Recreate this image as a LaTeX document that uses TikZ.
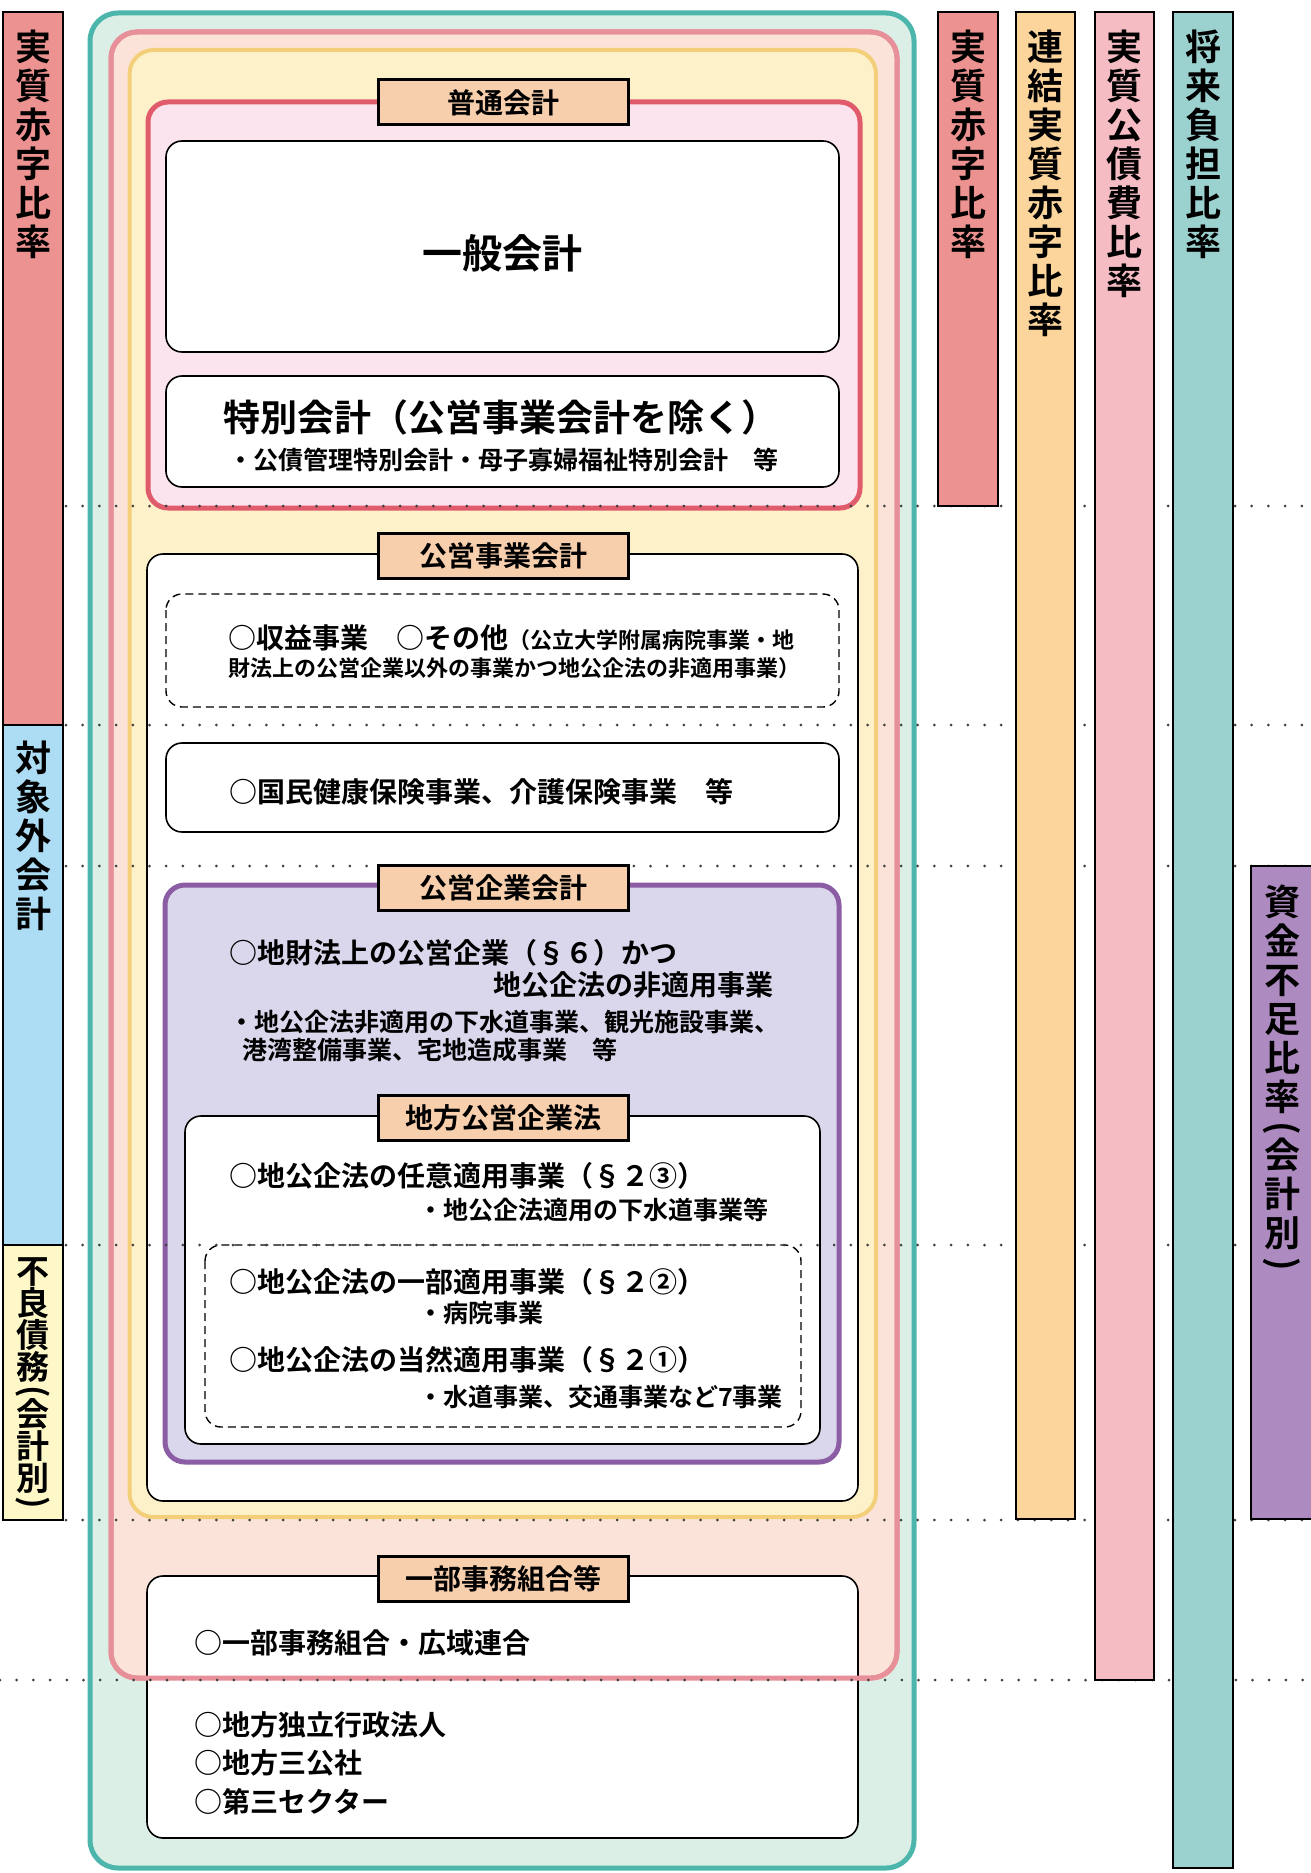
\documentclass[tikz,border=0pt]{standalone}
\usepackage{fontspec}
\usepackage{graphicx}
\setmainfont{Noto Sans CJK JP}[BoldFont={Noto Sans CJK JP Bold}]
\newcommand\jfs[1]{\fontsize{#1}{#1}\selectfont}
\newcommand\vpo{\rotatebox[origin=c]{-90}{(}}
\newcommand\vpc{\rotatebox[origin=c]{-90}{)}}

\definecolor{tealline}{HTML}{4DB6AC}
\definecolor{tealfill}{HTML}{DCEFE6}
\definecolor{salmline}{HTML}{E8909A}
\definecolor{salmfill}{HTML}{FCE3D9}
\definecolor{yellline}{HTML}{F3CF7A}
\definecolor{yellfill}{HTML}{FDF1C9}
\definecolor{redline}{HTML}{E05C6C}
\definecolor{redfill}{HTML}{FCE4EE}
\definecolor{purpline}{HTML}{8B5DA5}
\definecolor{purpfill}{HTML}{DAD6EC}
\definecolor{tagpeach}{HTML}{F7CFAD}
\definecolor{barsalm}{HTML}{EC9290}
\definecolor{barblue}{HTML}{ADDDF4}
\definecolor{baryell}{HTML}{FEF8C9}
\definecolor{barorng}{HTML}{FCD59D}
\definecolor{barpink}{HTML}{F6BCC4}
\definecolor{barteal}{HTML}{9BD2D0}
\definecolor{barpurp}{HTML}{AD8ABF}

\tikzset{
  zone/.style={line width=5pt, rounded corners=26pt},
  wbox/.style={draw=black, line width=1.6pt, fill=white, rounded corners=16pt},
  dbox/.style={draw=black, line width=1.4pt, dash pattern=on 8pt off 5pt, rounded corners=16pt},
  tag/.style={draw=black, line width=3pt, fill=tagpeach, minimum width=250pt, minimum height=45pt, inner sep=0pt, font=\bfseries\jfs{28}},
  txt/.style={anchor=west, inner sep=0pt, font=\bfseries\jfs{28}},
  sml/.style={anchor=west, inner sep=0pt, font=\bfseries\jfs{25}},
  ratiobar/.style={draw=black, line width=2pt},
  vtxt/.style={anchor=north, inner sep=0pt, align=center, font=\bfseries\fontsize{36}{39}\selectfont},
  dotline/.style={line width=3pt, line cap=round, dash pattern=on 0pt off 16.7pt, black!75}
}

\begin{document}
\begin{tikzpicture}[x=1pt,y=-1pt]
    \useasboundingbox (0,0) rectangle (1310,1873);

%   nested frames
    \draw[zone, draw=tealline, fill=tealfill, rounded corners=28pt] (90,13) rectangle (914,1868);
    \draw[zone, draw=salmline, fill=salmfill] (111,32) rectangle (897,1678);
    \draw[zone, draw=yellline, fill=yellfill, line width=4pt, rounded corners=24pt] (129.5,50) rectangle (876,1517);
    \draw[zone, draw=redline, fill=redfill, rounded corners=20pt] (148,102) rectangle (860,508);

    \draw[wbox] (166,141) rectangle (839,352);
    \draw[wbox] (166,376) rectangle (839,487);
    \draw[wbox] (147,554) rectangle (858,1501);
    \draw[dbox] (166,594) rectangle (839,707);
    \draw[wbox] (166,743) rectangle (839,832);
    \draw[zone, draw=purpline, fill=purpfill, rounded corners=20pt] (165,885) rectangle (839,1462);
    \draw[wbox] (185,1116) rectangle (820,1444);
    \draw[dbox] (205,1245) rectangle (801,1427);
    \draw[wbox] (147,1576) rectangle (858,1838);
    \draw[zone, draw=salmline] (111,32) rectangle (897,1678);

%   dotted separators
    \foreach \yy in {506,725,866,1245,1520} \draw[dotline] (66,\yy) -- (1310,\yy);
    \draw[dotline] (0,1680) -- (1310,1680);

%   titles
    \node[tag] (futsu) at (503,102.5) {普通会計};
    \node[tag] (koei) at (503,555.5) {公営事業会計};
    \node[tag] (kigyo) at (503,888) {公営企業会計};
    \node[tag] (chiho) at (503,1117.5) {地方公営企業法};
    \node[tag] (kumiaitag) at (503,1579) {一部事務組合等};

    \node[inner sep=0pt, font=\bfseries\jfs{40}] (ippan) at (502,253) {一般会計};
    \node[inner sep=0pt, font=\bfseries\jfs{37}] (tokubetsu) at (501,417) {特別会計（公営事業会計を除く）};
    \node[inner sep=0pt, font=\bfseries\jfs{25}] (tokurei) at (503,460) {・公債管理特別会計・母子寡婦福祉特別会計　等};

    \node[txt] (shueki) at (228,638) {○収益事業　○その他{\jfs{22}（公立大学附属病院事業・地}};
    \node[txt, font=\bfseries\jfs{22}] (shueki2) at (228,668) {財法上の公営企業以外の事業かつ地公企法の非適用事業）};
    \node[txt] (kokumin) at (229,792) {○国民健康保険事業、介護保険事業　等};

    \node[txt] (chizai) at (229,953) {○地財法上の公営企業（§６）かつ};
    \node[txt] (chizai2) at (493,985) {地公企法の非適用事業};
    \node[sml] (gesui) at (229,1022) {・地公企法非適用の下水道事業、観光施設事業、};
    \node[sml] (kowan) at (242,1050) {港湾整備事業、宅地造成事業　等};

    \node[txt] (nini) at (229,1176) {○地公企法の任意適用事業（§２③）};
    \node[sml] (nini2) at (418,1210) {・地公企法適用の下水道事業等};
    \node[txt] (ichibu) at (229,1282) {○地公企法の一部適用事業（§２②）};
    \node[sml] (byoin) at (418,1313) {・病院事業};
    \node[txt] (tozen) at (229,1360) {○地公企法の当然適用事業（§２①）};
    \node[sml] (suido) at (418,1397) {・水道事業、交通事業など7事業};

    \node[txt] (kumiai) at (194,1643) {○一部事務組合・広域連合};
    \node[txt] (dokuho) at (194,1725) {○地方独立行政法人};
    \node[txt] (sankosha) at (194,1763) {○地方三公社};
    \node[txt] (daisan) at (194,1802) {○第三セクター};

%   ratio bars
    \draw[ratiobar, fill=barsalm] (3,12) rectangle (63,725);
    \draw[ratiobar, fill=barblue] (3,725) rectangle (63,1245);
    \draw[ratiobar, fill=baryell] (3,1245) rectangle (63,1520);
    \draw[ratiobar, fill=barsalm] (938,12) rectangle (998,506);
    \draw[ratiobar, fill=barorng] (1016,12) rectangle (1075,1519);
    \draw[ratiobar, fill=barpink] (1095,12) rectangle (1154,1680);
    \draw[ratiobar, fill=barteal] (1173,12) rectangle (1233,1868);
    \draw[ratiobar, fill=barpurp] (1251,866) rectangle (1316,1519);

    \node[vtxt] (jisshitsuL) at (33,30) {実\\質\\赤\\字\\比\\率};
    \node[vtxt] (taishogai) at (33,741) {対\\象\\外\\会\\計};
    \node[vtxt, font=\bfseries\fontsize{33}{32}\selectfont] (furyo) at (33,1257) {不\\良\\債\\務\\[-8.5pt]\vpo\\[-8.5pt]会\\計\\別\\[-8.5pt]\vpc};
    \node[vtxt] (jisshitsuR) at (968,30) {実\\質\\赤\\字\\比\\率};
    \node[vtxt] (renketsu) at (1045.5,30) {連\\結\\実\\質\\赤\\字\\比\\率};
    \node[vtxt] (kosaihi) at (1124.5,30) {実\\質\\公\\債\\費\\比\\率};
    \node[vtxt] (shorai) at (1203,30) {将\\来\\負\\担\\比\\率};
    \node[vtxt] (shikin) at (1282,885) {資\\金\\不\\足\\比\\率\\[-10pt]\vpo\\[-10pt]会\\計\\別\\[-10pt]\vpc};

\end{tikzpicture}
\end{document}
